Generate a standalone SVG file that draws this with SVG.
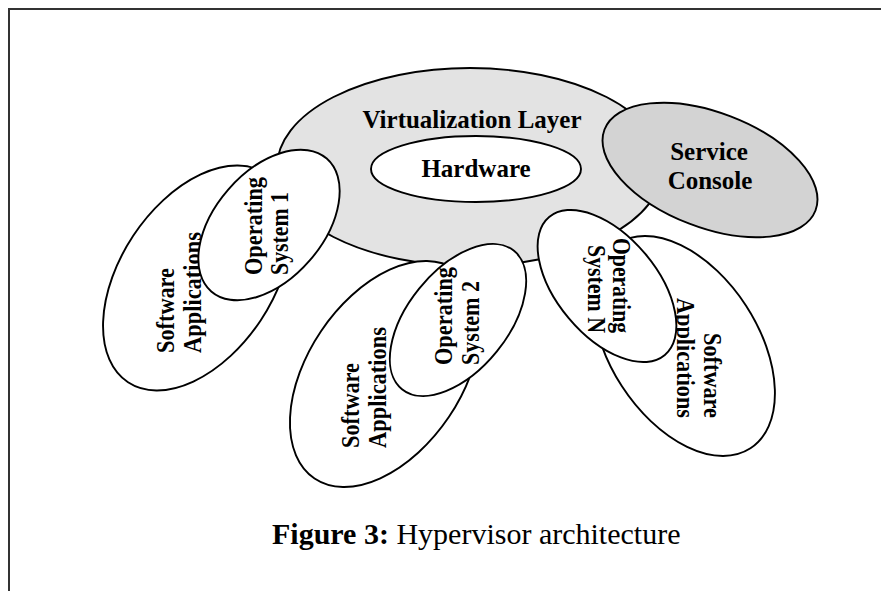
<svg xmlns="http://www.w3.org/2000/svg" width="881" height="591" viewBox="0 0 881 591">
<style>
.sh{stroke:#000;stroke-width:1.9;}
.w{fill:#fff;}
.t{font-family:"Liberation Serif","Times New Roman",serif;font-weight:bold;font-size:25px;fill:#000;}
.r{font-family:"Liberation Serif","Times New Roman",serif;font-weight:bold;font-size:26px;fill:#000;}
.cap{font-family:"Liberation Serif","Times New Roman",serif;font-size:30px;fill:#000;}
</style>
<rect width="881" height="591" fill="#fff"/>
<path d="M9,591 V9 H881" fill="none" stroke="#333" stroke-width="2"/>
<g id="virtualization-layer">
<ellipse class="sh" cx="470" cy="167" rx="193" ry="99" fill="#e3e3e3"/>
<text class="t" x="472" y="128" text-anchor="middle" textLength="219" lengthAdjust="spacingAndGlyphs">Virtualization Layer</text>
</g>
<g id="hardware">
<ellipse class="sh w" cx="476" cy="169" rx="105" ry="33"/>
<text class="t" x="476" y="177" text-anchor="middle">Hardware</text>
</g>
<g id="service-console">
<ellipse class="sh" cx="710" cy="170" rx="113" ry="57.5" transform="rotate(21 710 170)" fill="#d3d3d3"/>
<text class="t" x="709" y="160" text-anchor="middle">Service</text>
<text class="t" x="710" y="189" text-anchor="middle">Console</text>
</g>
<g id="apps-1">
<ellipse class="sh w" cx="197" cy="278" rx="125" ry="76.5" transform="rotate(-56.5 197 278)"/>
<text class="r" x="174" y="353" transform="rotate(-90 174 353)" textLength="85" lengthAdjust="spacingAndGlyphs">Software</text>
<text class="r" x="201" y="353" transform="rotate(-90 201 353)" textLength="121" lengthAdjust="spacingAndGlyphs">Applications</text>
</g>
<g id="os-1">
<ellipse class="sh w" cx="269" cy="225" rx="88" ry="54" transform="rotate(-49 269 225)"/>
<text class="r" x="262" y="275" transform="rotate(-90 262 275)" textLength="98" lengthAdjust="spacingAndGlyphs">Operating</text>
<text class="r" x="288" y="275" transform="rotate(-90 288 275)" textLength="83" lengthAdjust="spacingAndGlyphs">System 1</text>
</g>
<g id="apps-2">
<ellipse class="sh w" cx="385" cy="374" rx="126" ry="77" transform="rotate(-56 385 374)"/>
<text class="r" x="359" y="448" transform="rotate(-90 359 448)" textLength="85" lengthAdjust="spacingAndGlyphs">Software</text>
<text class="r" x="386" y="448" transform="rotate(-90 386 448)" textLength="121" lengthAdjust="spacingAndGlyphs">Applications</text>
</g>
<g id="os-2">
<ellipse class="sh w" cx="458" cy="320" rx="89" ry="50" transform="rotate(-51 458 320)"/>
<text class="r" x="452" y="365" transform="rotate(-90 452 365)" textLength="98" lengthAdjust="spacingAndGlyphs">Operating</text>
<text class="r" x="479" y="365" transform="rotate(-90 479 365)" textLength="84" lengthAdjust="spacingAndGlyphs">System 2</text>
</g>
<g id="apps-n">
<ellipse class="sh w" cx="684" cy="346" rx="122" ry="74" transform="rotate(57 684 346)"/>
<text class="r" x="704" y="418" transform="rotate(90 704 418)" text-anchor="end" textLength="85" lengthAdjust="spacingAndGlyphs">Software</text>
<text class="r" x="677" y="418" transform="rotate(90 677 418)" text-anchor="end" textLength="120" lengthAdjust="spacingAndGlyphs">Applications</text>
</g>
<g id="os-n">
<ellipse class="sh w" cx="607" cy="286" rx="90" ry="50" transform="rotate(50 607 286)"/>
<text class="r" x="613" y="333" transform="rotate(90 613 333)" text-anchor="end" textLength="95" lengthAdjust="spacingAndGlyphs">Operating</text>
<text class="r" x="588" y="333" transform="rotate(90 588 333)" text-anchor="end" textLength="88" lengthAdjust="spacingAndGlyphs">System N</text>
</g>
<g id="connectors"></g>
<g id="caption">
<text class="cap" x="272" y="544"><tspan font-weight="bold">Figure 3:</tspan> Hypervisor architecture</text>
</g>
</svg>
